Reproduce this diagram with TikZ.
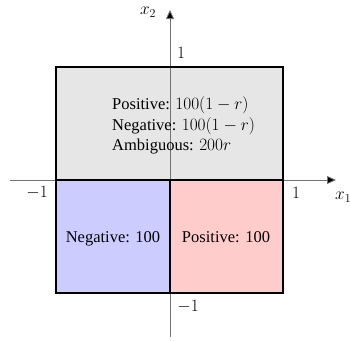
\documentclass[tikz,border=0pt]{standalone}
\usepackage{fontspec}
\setmainfont{Liberation Serif}
\usetikzlibrary{arrows.meta}
\begin{document}
\begin{tikzpicture}[x=1pt,y=-1pt,
  region/.style={draw=black,line width=1.6pt},
  axis/.style={draw=gray!90!black,line width=0.8pt,-{Triangle[length=9pt,width=8pt,fill=black]}},
  lbl/.style={font=\fontsize{16.5}{20}\selectfont,inner sep=0pt},
  tick/.style={font=\fontsize{17}{20}\selectfont,inner sep=0pt}]
\useasboundingbox (0,0) rectangle (350,340);
\definecolor{topgray}{HTML}{E6E6E6}
\definecolor{negblue}{HTML}{CCCCFF}
\definecolor{posred}{HTML}{FFCCCC}
% regions
\fill[topgray] (56,67) rectangle (283,180);
\fill[negblue] (56,180) rectangle (170,293);
\fill[posred] (170,180) rectangle (283,293);
% axes
\coordinate (xs) at (10,180);
\coordinate (xe) at (336,180);
\coordinate (ys) at (170,337);
\coordinate (ye) at (170,10);
\draw[axis] (xs) -- (xe);
\draw[axis] (ys) -- (ye);
% borders
\draw[region] (56,67) rectangle (283,293);
\draw[region] (56,180) -- (283,180);
\draw[region] (170,180) -- (170,293);
% texts
\node[lbl,anchor=base west] (top) at (112,109) {Positive: $100(1-r)$};
\node[lbl,anchor=base west] (top2) at (112,130) {Negative: $100(1-r)$};
\node[lbl,anchor=base west] (top3) at (112,150.5) {Ambiguous: $200r$};
\node[lbl,anchor=base] (neg) at (113,242.5) {Negative: 100};
\node[lbl,anchor=base] (pos) at (226,242.5) {Positive: 100};
% ticks
\node[tick] (t1) at (181,53) {$1$};
\node[tick] (tm1) at (37,193) {$-1$};
\node[tick] (r1) at (296,193) {$1$};
\node[tick] (bm1) at (188,307) {$-1$};
\node[tick,anchor=west] (x1) at (335,197) {$x_1$};
\node[tick] (x2) at (148,12) {$x_2$};
\end{tikzpicture}
\end{document}
